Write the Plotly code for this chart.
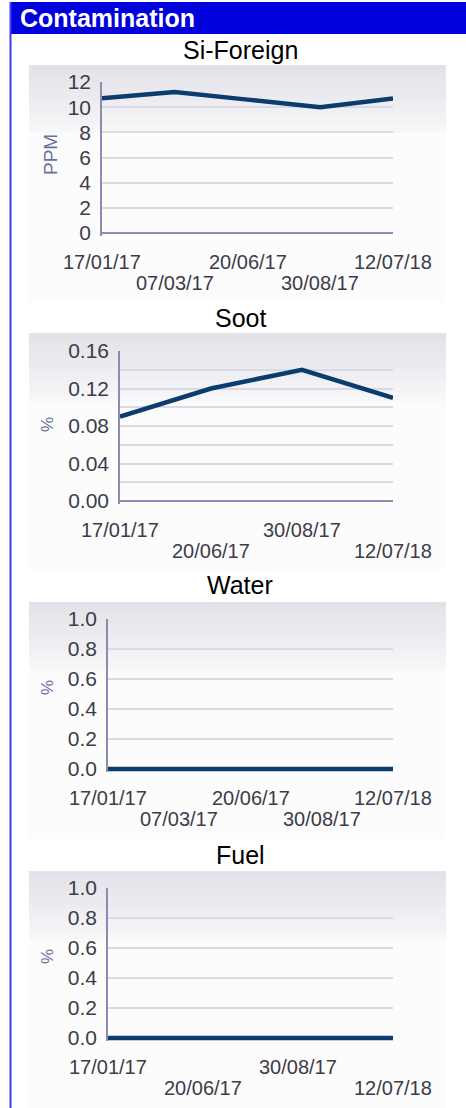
import plotly.graph_objects as go

W, H = 466, 1108

# ---------------- data ----------------
si_dates = ["17/01/17", "07/03/17", "20/06/17", "30/08/17", "12/07/18"]
si_values = [10.7, 11.2, 10.6, 10.0, 10.7]

soot_dates = ["17/01/17", "20/06/17", "30/08/17", "12/07/18"]
soot_values = [0.09, 0.12, 0.14, 0.11]

water_dates = ["17/01/17", "07/03/17", "20/06/17", "30/08/17", "12/07/18"]
water_values = [0.0, 0.0, 0.0, 0.0, 0.0]

fuel_dates = ["17/01/17", "20/06/17", "30/08/17", "12/07/18"]
fuel_values = [0.0, 0.0, 0.0, 0.0]

section_title = "Contamination"
chart_titles = ["Si-Foreign", "Soot", "Water", "Fuel"]
units = ["PPM", "%", "%", "%"]
y_max = [12, 0.16, 1.0, 1.0]
y_dtick = [2, 0.04, 0.2, 0.2]
y_minor = [None, 0.02, None, None]
y_fmt = ["d", ".2f", ".1f", ".1f"]

# ---------------- layout geometry (pixels) ----------------
geom = [
    dict(left=102, right=393, top=82, zero=233, title_y=50, panel=(65, 302), unit_x=50, unit_y=155),
    dict(left=120, right=393, top=351, zero=501, title_y=318, panel=(333, 570), unit_x=47, unit_y=425),
    dict(left=108, right=393, top=619, zero=769, title_y=585, panel=(602, 839), unit_x=47, unit_y=688),
    dict(left=108, right=393, top=888, zero=1038, title_y=855, panel=(871, 1108), unit_x=47, unit_y=957),
]

FONT = "Liberation Sans, Arial, sans-serif"
LINE_COLOR = "#0b3c6d"
AXIS_COLOR = "#8a8db0"
GRID_COLOR = "#dadae4"
TICK_COLOR = "#3c3c48"
UNIT_COLOR = "#6a6f9e"


def fx(p):
    return p / W


def fy(p):
    return 1 - p / H


datasets = [
    (si_dates, si_values),
    (soot_dates, soot_values),
    (water_dates, water_values),
    (fuel_dates, fuel_values),
]

fig = go.Figure()
layout = dict(
    template="none",
    width=W, height=H, margin=dict(l=0, r=0, t=0, b=0, pad=0, autoexpand=False),
    paper_bgcolor="white", plot_bgcolor="rgba(0,0,0,0)",
    showlegend=False, font=dict(family=FONT),
)
shapes = []
annotations = []

# header bar + left border
shapes.append(dict(type="rect", xref="paper", yref="paper", x0=fx(10), x1=1, y0=fy(34), y1=fy(2),
                   fillcolor="#0000dd", line=dict(width=0), layer="below"))
shapes.append(dict(type="line", xref="paper", yref="paper", x0=fx(10.5), x1=fx(10.5), y0=0, y1=fy(2),
                   line=dict(color="#3c3cff", width=2), layer="above"))
annotations.append(dict(text="<b>" + section_title + "</b>", xref="paper", yref="paper",
                        x=fx(18), y=fy(18), xanchor="left", yanchor="middle", showarrow=False,
                        font=dict(family=FONT, size=25, color="white")))

EXT = 3  # pixels of room below zero so the zero line is not clipped

for i, ((dates, vals), g) in enumerate(zip(datasets, geom)):
    n = i + 1
    xa = "xaxis" if n == 1 else f"xaxis{n}"
    ya = "yaxis" if n == 1 else f"yaxis{n}"
    xr = "x" if n == 1 else f"x{n}"
    yr = "y" if n == 1 else f"y{n}"

    # panel background with vertical gradient
    p0, p1 = g["panel"]
    steps = 17
    for s in range(steps):
        t = s / (steps - 1)
        c = int(round(226 + (247 - 226) * t))
        cb = int(round(232 + (249 - 232) * t))
        shapes.append(dict(type="rect", xref="paper", yref="paper", x0=fx(29), x1=fx(446),
                           y0=fy(p0 + 4 * s + 4), y1=fy(p0 + 4 * s),
                           fillcolor=f"rgb({c},{c},{cb})", line=dict(width=0), layer="below"))
    shapes.append(dict(type="rect", xref="paper", yref="paper", x0=fx(29), x1=fx(446),
                       y0=fy(p1), y1=fy(p0 + 4 * steps),
                       fillcolor="rgb(252,252,253)", line=dict(width=0), layer="below"))

    span = g["zero"] - g["top"]
    ext = y_max[i] * EXT / span

    fig.add_trace(go.Scatter(
        x=dates, y=vals, mode="lines", xaxis=xr, yaxis=yr,
        line=dict(color=LINE_COLOR, width=4.5), hoverinfo="skip",
    ))

    layout[xa] = dict(
        domain=[fx(g["left"]), fx(g["right"])], anchor=yr, type="category",
        range=[0, len(dates) - 1], showgrid=False, zeroline=False, showline=False,
        showticklabels=False, ticks="", fixedrange=True, automargin=False,
    )
    yax = dict(
        domain=[fy(g["zero"] + EXT), fy(g["top"])], anchor=xr,
        range=[-ext, y_max[i]], dtick=y_dtick[i], tick0=0, tickformat=y_fmt[i],
        showgrid=True, gridcolor=GRID_COLOR, gridwidth=1.5,
        zeroline=True, zerolinecolor=AXIS_COLOR, zerolinewidth=1.5,
        showline=True, linecolor=AXIS_COLOR, linewidth=1.5,
        ticks="", ticklabelstandoff=5, automargin=False,
        tickfont=dict(family=FONT, size=21, color=TICK_COLOR), fixedrange=True,
    )
    if y_minor[i]:
        yax["minor"] = dict(dtick=y_minor[i], tick0=0, showgrid=True, gridcolor=GRID_COLOR, gridwidth=1.5)
    layout[ya] = yax

    # chart title
    annotations.append(dict(text=chart_titles[i], xref="paper", yref="paper", x=fx(240), y=fy(g["title_y"]),
                            xanchor="center", yanchor="middle", showarrow=False,
                            font=dict(family=FONT, size=25, color="black")))
    # unit label
    annotations.append(dict(text=units[i], xref="paper", yref="paper", x=fx(g["unit_x"]), y=fy(g["unit_y"]),
                            xanchor="center", yanchor="middle", showarrow=False, textangle=-90,
                            font=dict(family=FONT, size=19 if units[i] == "PPM" else 17, color=UNIT_COLOR)))
    # staggered date labels
    for k, d in enumerate(dates):
        row_off = 29 if k % 2 == 0 else 50
        annotations.append(dict(text=d, xref=xr, yref="paper", x=d, y=fy(g["zero"] + row_off),
                                xanchor="center", yanchor="middle", showarrow=False,
                                font=dict(family=FONT, size=20, color=TICK_COLOR)))

layout["shapes"] = shapes
layout["annotations"] = annotations
fig.update_layout(**layout)

post = (
    "document.documentElement.style.margin='0';"
    "document.documentElement.style.padding='0';"
    "document.documentElement.style.overflow='hidden';"
    "document.body.style.margin='0';"
    "document.body.style.padding='0';"
    "document.body.style.overflow='hidden';"
    "var gd=document.getElementById('{plot_id}');"
    "gd.style.position='fixed';gd.style.left='0px';gd.style.top='0px';"
)
fig.write_html(
    "out.html",
    config={"displayModeBar": False, "responsive": False},
    post_script=post,
)
